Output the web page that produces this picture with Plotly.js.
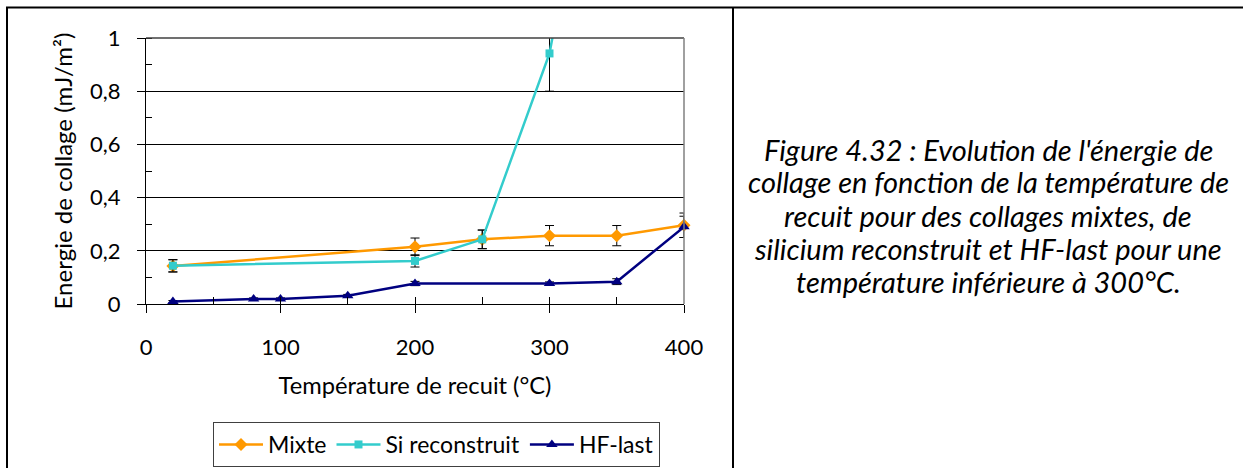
<!DOCTYPE html>
<html>
<head>
<meta charset="utf-8">
<script src="https://cdn.plot.ly/plotly-3.0.1.min.js"></script>
<style>html,body{margin:0;padding:0;background:#fff;}#chart{width:1243px;height:468px;}</style>
</head>
<body>
<div id="chart"></div>
<script>
// ---- data ----
const mixteT = [20, 200, 250, 300, 350, 400];
const mixteE = [0.143, 0.215, 0.243, 0.257, 0.257, 0.296];
const mixteErr = [0.023, 0.033, 0.035, 0.038, 0.038, 0.046];

const siT = [20, 200, 250, 300, 350];
const siE = [0.144, 0.162, 0.243, 0.942, 2.3];
const siErr = [0.023, 0.023, 0.035, 0.142, 0];

const hfT = [20, 80, 100, 150, 200, 300, 350, 400];
const hfE = [0.009, 0.019, 0.019, 0.031, 0.077, 0.077, 0.084, 0.29];
const hfErr = [0.004, 0.004, 0.004, 0.005, 0.008, 0.006, 0.011, 0.04];

const seriesNames = ['Mixte', 'Si reconstruit', 'HF-last'];
const xTickVals = [0, 100, 200, 300, 400];
const yTickVals = [0, 0.2, 0.4, 0.6, 0.8, 1];
const yTickText = ['0', '0,2', '0,4', '0,6', '0,8', '1'];
const xTitle = 'Température de recuit (°C)';
const yTitle = 'Energie de collage (mJ/m²)';
const captionLines = [
  "Figure 4.32 : Evolution de l'énergie de",
  "collage en fonction de la température de",
  "recuit pour des collages mixtes, de",
  "silicium reconstruit et HF-last pour une",
  "température inférieure à 300°C."
];

const W = 1243, H = 468;
const FONT = 'Lato, "Open Sans", sans-serif';
const px = v => v / W;
const py = v => (H - v) / H;

const errStyle = (arr) => ({type: 'data', array: arr, visible: true, color: '#000', thickness: 1, width: 4.5});

const traces = [
  {x: mixteT, y: mixteE, name: seriesNames[0], type: 'scatter', mode: 'lines+markers',
   line: {color: '#FF9900', width: 2.5}, marker: {symbol: 'diamond', size: 10, color: '#FF9900'},
   error_y: errStyle(mixteErr), cliponaxis: false},
  {x: siT, y: siE, name: seriesNames[1], type: 'scatter', mode: 'lines+markers',
   line: {color: '#33CCCC', width: 2.5}, marker: {symbol: 'square', size: 8, color: '#33CCCC'},
   error_y: errStyle(siErr), cliponaxis: false},
  {x: hfT, y: hfE, name: seriesNames[2], type: 'scatter', mode: 'lines+markers',
   line: {color: '#000080', width: 2.5}, marker: {symbol: 'triangle-up', size: 10, color: '#000080'},
   error_y: errStyle(hfErr), cliponaxis: false},
  // invisible trace to carry the secondary (inner tick) x axis
  {x: [0, 400], y: [0, 0], xaxis: 'x2', yaxis: 'y', mode: 'none', showlegend: false, hoverinfo: 'skip'}
];

const annotations = captionLines.map((t, i) => ({
  text: t, xref: 'paper', yref: 'paper', x: px(988), y: py(149 + i * 33),
  xanchor: 'center', yanchor: 'middle', showarrow: false,
  font: {family: FONT, size: 29, color: '#000', style: 'italic'}
}));

const layout = {
  width: W, height: H,
  margin: {l: 0, r: 0, t: 0, b: 0},
  paper_bgcolor: '#fff', plot_bgcolor: '#fff',
  font: {family: FONT, color: '#000'},
  showlegend: true,
  legend: {
    orientation: 'h', x: px(213), y: py(422), xanchor: 'left', yanchor: 'top',
    bordercolor: '#404040', borderwidth: 1, bgcolor: '#fff',
    font: {family: FONT, size: 23, color: '#000'}, itemwidth: 44, tracegroupgap: 0
  },
  xaxis: {
    domain: [px(146), px(684)], range: [0, 400], tickvals: xTickVals,
    ticks: 'outside', ticklen: 8, tickcolor: '#000', tickwidth: 1,
    showline: true, linecolor: '#000', linewidth: 1, showgrid: false, zeroline: false,
    tickfont: {family: FONT, size: 22}, ticklabelstandoff: 16,
    title: {text: xTitle, font: {family: FONT, size: 23.7}, standoff: 18},
    anchor: 'y'
  },
  xaxis2: {
    domain: [px(146), px(684)], range: [0, 400], dtick: 50, tick0: 0,
    ticks: 'inside', ticklen: 7, tickcolor: '#000', showticklabels: false,
    showline: false, showgrid: false, zeroline: false, overlaying: 'x', anchor: 'y'
  },
  yaxis: {
    domain: [py(304), py(38)], range: [0, 1], tickvals: yTickVals, ticktext: yTickText,
    ticks: 'outside', ticklen: 8, tickcolor: '#000', tickwidth: 1,
    showline: true, linecolor: '#000', linewidth: 1,
    showgrid: true, gridcolor: '#000', gridwidth: 1, zeroline: false,
    minor: {dtick: 0.1, tick0: 0, ticks: 'inside', ticklen: 6, tickcolor: '#000', showgrid: false},
    tickfont: {family: FONT, size: 22}, ticklabelstandoff: 12,
    title: {text: yTitle, font: {family: FONT, size: 24}, standoff: 10},
    anchor: 'x'
  },
  shapes: [
    // plot frame: top and right edges
    {type: 'line', xref: 'x domain', yref: 'y domain', x0: 0, x1: 1, y0: 1, y1: 1, line: {color: '#404040', width: 1.5}},
    {type: 'line', xref: 'x domain', yref: 'y domain', x0: 1, x1: 1, y0: 0, y1: 1, line: {color: '#808080', width: 1.5}},
    // page table frame
    {type: 'line', xref: 'paper', yref: 'paper', x0: px(6), x1: 1, y0: py(7.5), y1: py(7.5), line: {color: '#000', width: 2}},
    {type: 'line', xref: 'paper', yref: 'paper', x0: px(7), x1: px(7), y0: 0, y1: py(7), line: {color: '#000', width: 2}},
    {type: 'line', xref: 'paper', yref: 'paper', x0: px(733), x1: px(733), y0: 0, y1: py(7), line: {color: '#000', width: 2}}
  ],
  annotations: annotations
};

Plotly.newPlot('chart', traces, layout, {displayModeBar: false, staticPlot: true});
</script>
</body>
</html>
